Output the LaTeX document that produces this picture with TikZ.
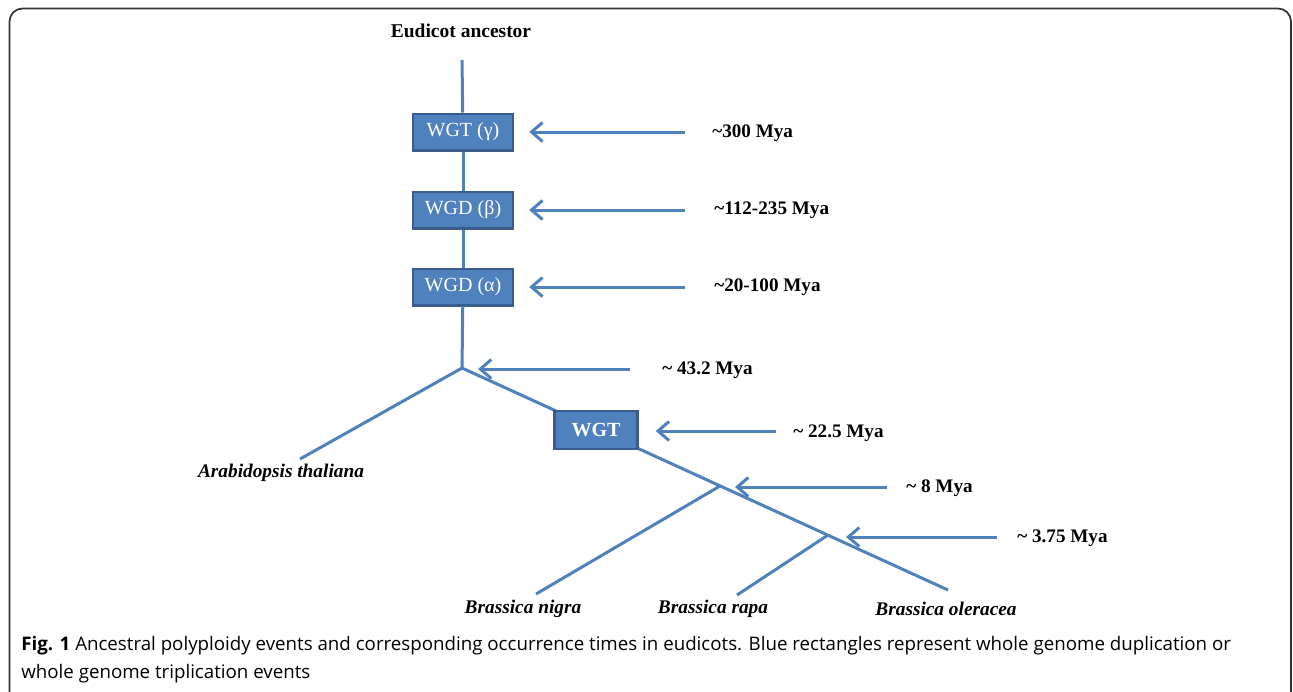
\documentclass[tikz,border=0pt]{standalone}
\usepackage{fontspec}
\setmainfont{Liberation Serif}
\newfontfamily\capfont{Open Sans}
\usetikzlibrary{positioning}
\usetikzlibrary{arrows.meta, positioning}
\definecolor{wgblue}{HTML}{4F81BD}
\definecolor{wgedge}{HTML}{385D8A}
\tikzstyle{branch} = [draw=wgblue, line width=0.06cm]
\tikzstyle{arrow} = [draw=wgblue, line width=0.06cm, -{Straight Barb[length=0.22cm, width=0.38cm, line width=0.06cm]}]
\tikzstyle{box} = [draw=wgedge, fill=wgblue, line width=0.05cm, text=white, inner sep=0pt, minimum width=2cm, minimum height=0.73cm, font=\fontsize{11.4}{13}\selectfont]
\tikzstyle{age} = [anchor=west, inner sep=0pt, font=\fontsize{10.9}{13}\selectfont\bfseries]
\tikzstyle{taxon} = [inner sep=0pt, font=\fontsize{11}{13}\selectfont\bfseries\itshape]

\begin{document}
\begin{tikzpicture}[x=0.02cm, y=-0.02cm]
    \useasboundingbox (0,0) rectangle (1293,691);
    \clip (0,0) rectangle (1293,691);
    % Frame
    \draw[line width=0.035cm, rounded corners=0.26cm, black!80] (9.5,8.5) rectangle (1291,705);

    % Points of the tree
    \coordinate (root) at (462,60);
    \coordinate (j1) at (462,368);
    \coordinate (j2) at (720,486);
    \coordinate (j3) at (828,535);
    \coordinate (ath) at (300,459);
    \coordinate (bni) at (536,594);
    \coordinate (bra) at (737,595);
    \coordinate (bol) at (948,590);

    % Branches under the boxes
    \draw[branch] (j1) -- (bol);
    \draw[branch] (j1) -- (ath);
    \draw[branch] (j2) -- (bni);
    \draw[branch] (j3) -- (bra);

    % Nodes
    \node[font=\fontsize{11.1}{13}\selectfont\bfseries] (anc) at (461,31) {Eudicot ancestor};
    \node[box] (g1) at (463,132) {WGT (γ)};
    \node[box] (g2) at (463,210) {WGD (β)};
    \node[box] (g3) at (463,287) {WGD (α)};
    \node[box, minimum width=1.66cm, minimum height=0.76cm, font=\fontsize{11.4}{13}\selectfont\bfseries] (w) at (596,430) {WGT};

    \coordinate (t1) at (685,132);
    \coordinate (t2) at (685,210);
    \coordinate (t3) at (685,287);
    \coordinate (t4) at (630,369);
    \coordinate (t5) at (776,431);
    \coordinate (t6) at (887,487);
    \coordinate (t7) at (997,537);

    \node[age] (a1) at (712,133) {\textasciitilde300 Mya};
    \node[age] (a2) at (714,210) {\textasciitilde112-235 Mya};
    \node[age] (a3) at (714,287) {\textasciitilde20-100 Mya};
    \node[age] (a4) at (662,370) {\textasciitilde\ 43.2 Mya};
    \node[age] (a5) at (793,433) {\textasciitilde\ 22.5 Mya};
    \node[age] (a6) at (906,488) {\textasciitilde\ 8 Mya};
    \node[age] (a7) at (1017,538) {\textasciitilde\ 3.75 Mya};

    \node[taxon] (n1) at (281,473) {Arabidopsis thaliana};
    \node[taxon] (n2) at (523,609) {Brassica nigra};
    \node[taxon] (n3) at (713,609) {Brassica rapa};
    \node[taxon] (n4) at (946,609) {Brassica oleracea};

    % Edges
    \draw[branch] (root) -- (g1);
    \draw[branch] (g1) -- (g2);
    \draw[branch] (g2) -- (g3);
    \draw[branch] (g3) -- (j1);
    \draw[arrow, shorten >=0.3cm] (t1) -- (g1.east);
    \draw[arrow, shorten >=0.3cm] (t2) -- (g2.east);
    \draw[arrow, shorten >=0.3cm] (t3) -- (g3.east);
    \draw[arrow, shorten >=0.32cm] (t4) -- (t4 -| j1);
    \draw[arrow, shorten >=0.34cm] (t5) -- (t5 -| w.east);
    \draw[arrow, shorten >=0.3cm] (t6) -- (t6 -| j2);
    \draw[arrow, shorten >=0.36cm] (t7) -- (t7 -| j3);

    % Caption
    \node[anchor=base west, align=left, inner sep=0pt, font=\capfont\fontsize{10.65}{15.4}\selectfont] (cap) at (21,678)
        {\textbf{Fig. 1} Ancestral polyploidy events and corresponding occurrence times in eudicots. Blue rectangles represent whole genome duplication or\\
         whole genome triplication events};
\end{tikzpicture}
\end{document}
